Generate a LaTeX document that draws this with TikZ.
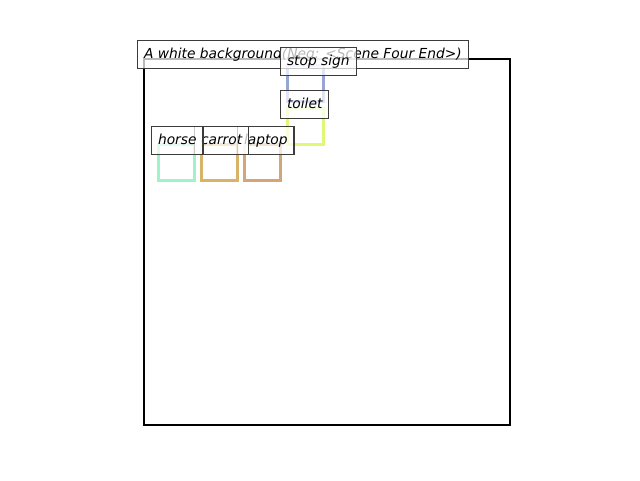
\documentclass[tikz,border=0pt]{standalone}
\usepackage{fontspec}
\setmainfont{DejaVu Sans}
\definecolor{boxedge}{RGB}{60,60,60}
\definecolor{stopc}{RGB}{150,164,214}
\definecolor{toiletc}{RGB}{222,248,120}
\definecolor{horsec}{RGB}{156,244,200}
\definecolor{carrotc}{RGB}{218,180,102}
\definecolor{laptopc}{RGB}{212,166,118}
\begin{document}
\begin{tikzpicture}[x=1pt,y=-1pt,
  frame/.style={draw=black,line width=2.2pt},
  objbox/.style={line width=3pt},
  tag/.style={draw=boxedge,line width=1.2pt,fill=white,fill opacity=0.72,text opacity=1,
    anchor=north west,inner xsep=6.4pt,inner ysep=0pt,minimum height=28pt,
    text height=10.6pt,text depth=3.2pt,
    font=\fontsize{13.8}{16}\selectfont\itshape}]
  \useasboundingbox[fill=white] (0,0) rectangle (640,480);
  % image frame
  \draw[frame] (144,59) rectangle (510,425);
  % object boxes
  \draw[objbox,stopc] (287,65) rectangle (323,101);
  \draw[objbox,toiletc] (287,108) rectangle (323,144);
  \draw[objbox,horsec] (158,144) rectangle (194,180);
  \draw[objbox,carrotc] (201,144) rectangle (237,180);
  \draw[objbox,laptopc] (244,144) rectangle (280,180);
  % caption and labels
  \node[tag] (title) at (137,40) {A white background(Neg: <Scene Four End>)};
  \node[tag] (stop) at (280,47) {stop sign};
  \node[tag] (toilet) at (280,90) {toilet};
  \node[tag] (laptop) at (237,126) {laptop};
  \node[tag] (carrot) at (194,126) {carrot};
  \node[tag] (horse) at (151,126) {horse};
\end{tikzpicture}
\end{document}
